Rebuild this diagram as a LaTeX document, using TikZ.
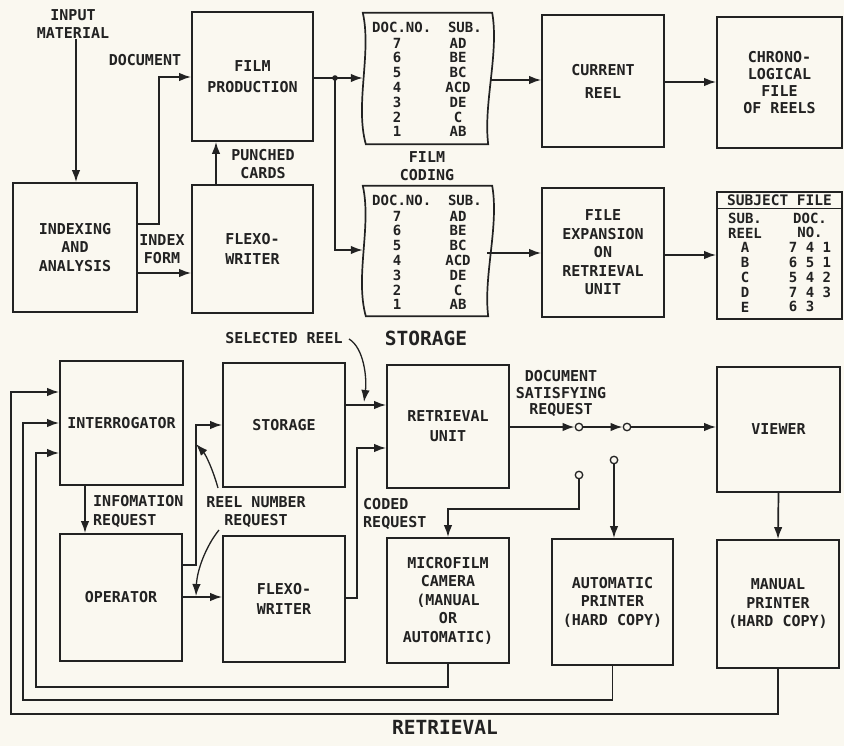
\documentclass[tikz,border=0pt]{standalone}
\usepackage{fontspec}
\setmainfont{DejaVu Sans Mono}
\usetikzlibrary{arrows.meta}
\definecolor{bg}{HTML}{FAF8F0}
\definecolor{ink}{HTML}{222222}
\newcommand\labfont{\fontsize{15}{18.5}\selectfont\bfseries}
\newcommand\bigfont{\fontsize{19.5}{22}\selectfont\bfseries}
\newcommand\stripfont{\fontsize{14}{14.8}\selectfont\bfseries}
\newcommand\filmstrip[1]{%
  \draw[frame] (#1.north west) -- (#1.north east)
    .. controls ([shift={(7,40)}]#1.north east) and ([shift={(-9,-40)}]#1.south east) .. ([xshift=-4pt]#1.south east)
    -- ([xshift=3pt]#1.south west)
    .. controls ([shift={(-8,-40)}]#1.south west) and ([shift={(9,40)}]#1.north west) .. (#1.north west) -- cycle;}
\begin{document}
\begin{tikzpicture}[x=1pt,y=-1pt,
  frame/.style={draw=ink,line width=1.7pt},
  box/.style={frame,align=center,font=\labfont,inner sep=0pt,text=ink},
  lbl/.style={align=center,font=\labfont,inner sep=0pt,text=ink},
  lbll/.style={align=left,font=\labfont,inner sep=0pt,text=ink},
  stripcol/.style={align=center,font=\stripfont,inner sep=0pt,text=ink},
  conn/.style={draw=ink,line width=1.7pt},
  arr/.style={conn,-{Latex[length=12pt,width=8.5pt]}},
  term/.style={circle,draw=ink,line width=1.3pt,fill=bg,minimum size=7.5pt,inner sep=0pt},
]
\fill[bg] (0,0) rectangle (844,746);
\useasboundingbox (0,0) rectangle (844,746);

% ---------------- STORAGE (top) ----------------
\node[box, minimum width=124pt, minimum height=129pt] (idx) at (75,247.5) {INDEXING\\AND\\ANALYSIS};
\node[box, minimum width=121pt, minimum height=129pt, font=\fontsize{15}{21}\selectfont\bfseries] (film) at (252.5,76.5) {FILM\\PRODUCTION};
\node[box, minimum width=121pt, minimum height=128pt, font=\fontsize{15}{20}\selectfont\bfseries] (flexoA) at (252.5,249) {FLEXO-\\WRITER};
\node[inner sep=0pt, minimum width=129pt, minimum height=131pt] (stripA) at (427.5,78.5) {};
\node[inner sep=0pt, minimum width=129pt, minimum height=130pt] (stripB) at (427.5,251) {};
\filmstrip{stripA}
\filmstrip{stripB}
\node[box, minimum width=122pt, minimum height=132pt, font=\fontsize{15}{23}\selectfont\bfseries] (cur) at (603,81) {CURRENT\\REEL};
\node[box, minimum width=125pt, minimum height=131pt, font=\fontsize{15}{17}\selectfont\bfseries] (chrono) at (779.5,82.5) {CHRONO-\\LOGICAL\\FILE\\OF REELS};
\node[box, minimum width=122pt, minimum height=129pt] (fexp) at (603,252.5) {FILE\\EXPANSION\\ON\\RETRIEVAL\\UNIT};
\node[box, minimum width=125pt, minimum height=127pt] (subj) at (779.5,255.5) {};

% strip contents
\node[stripcol] (hA) at (427,27) {DOC.NO.\ \ SUB.};
\node[stripcol] (nA) at (397,87.4) {7\\6\\5\\4\\3\\2\\1};
\node[stripcol] (sA) at (458,87.4) {AD\\BE\\BC\\ACD\\DE\\C\\AB};
\node[stripcol] (hB) at (427,200) {DOC.NO.\ \ SUB.};
\node[stripcol] (nB) at (397,260.4) {7\\6\\5\\4\\3\\2\\1};
\node[stripcol] (sB) at (458,260.4) {AD\\BE\\BC\\ACD\\DE\\C\\AB};

% subject file contents
\node[lbl, font=\fontsize{14.5}{16}\selectfont\bfseries] (sfh) at (779.5,200) {SUBJECT FILE};
\draw[conn, line width=1.2pt] (subj.west |- 0,208.5) -- (subj.east |- 0,208.5);
\node[stripcol] (sfl) at (745,262.5) {SUB.\\REEL\\A\\B\\C\\D\\E};
\node[stripcol] (sfr) at (810,262.5) {DOC.\\NO.\\7~4~1\\6~5~1\\5~4~2\\7~4~3\\6~3\hphantom{~1}};

% labels
\node[lbl] (inp) at (73,24) {INPUT\\MATERIAL};
\node[lbl] (docl) at (145,60) {DOCUMENT};
\node[lbl] (ixf) at (162,249) {INDEX\\FORM};
\node[lbl] (pc) at (263,164) {PUNCHED\\CARDS};
\node[lbl] (fc) at (427,166) {FILM\\CODING};
\node[lbl, font=\bigfont] (stl) at (426,338) {STORAGE};

% connectors (top)
\draw[arr] (inp.south -| 76,0) -- (idx.north -| 76,0);
\draw[arr] (idx.east |- 0,224) -- (159,224) |- (film.west |- 0,77);
\draw[arr] (idx.east |- 0,273) -- (flexoA.west |- 0,273);
\draw[arr] (flexoA.north -| 216,0) -- (film.south -| 216,0);
\coordinate (jn) at (335,78);
\draw[arr] (film.east |- jn) -- (stripA.west |- jn);
\draw[arr] (jn) |- (stripB.west |- 0,250);
\fill[ink] (jn) circle (2.8pt);
\draw[arr] ([xshift=-2pt]stripA.east |- 0,80) -- (cur.west |- 0,80);
\draw[arr] (cur.east |- 0,82) -- (chrono.west |- 0,82);
\draw[arr] ([xshift=-5pt]stripB.east |- 0,253) -- (fexp.west |- 0,253);
\draw[arr] (fexp.east |- 0,255) -- (subj.west |- 0,255);

% ---------------- RETRIEVAL (bottom) ----------------
\node[box, minimum width=123pt, minimum height=124pt] (interr) at (121.5,423) {INTERROGATOR};
\node[box, minimum width=122pt, minimum height=127pt] (oper) at (121,597.5) {OPERATOR};
\node[box, minimum width=122pt, minimum height=124pt] (stor) at (284,425) {STORAGE};
\node[box, minimum width=122pt, minimum height=126pt, font=\fontsize{15}{20}\selectfont\bfseries] (flexoB) at (284,599) {FLEXO-\\WRITER};
\node[box, minimum width=122pt, minimum height=123pt, font=\fontsize{15}{20}\selectfont\bfseries] (retr) at (448,426.5) {RETRIEVAL\\UNIT};
\node[box, minimum width=122pt, minimum height=125pt] (cam) at (448,600.5) {MICROFILM\\CAMERA\\(MANUAL\\OR\\AUTOMATIC)};
\node[box, minimum width=121pt, minimum height=126pt] (auto) at (612.5,602) {AUTOMATIC\\PRINTER\\(HARD COPY)};
\node[box, minimum width=123pt, minimum height=125pt] (viewer) at (778.5,429.5) {VIEWER};
\node[box, minimum width=122pt, minimum height=128pt] (manual) at (778,604) {MANUAL\\PRINTER\\(HARD COPY)};

\node[term] (swA) at (579,427) {};
\node[term] (swB) at (627,427) {};
\node[term] (tA) at (579,475) {};
\node[term] (tB) at (614,460) {};

% labels
\node[lbl] (sel) at (284,338) {SELECTED REEL};
\node[lbll, anchor=west] (info) at (93,511.5) {INFOMATION\\REQUEST};
\node[lbl] (rn) at (256,512) {REEL NUMBER\\REQUEST};
\node[lbll, anchor=west] (cr) at (363,514) {CODED\\REQUEST};
\node[lbl, font=\fontsize{15}{16.5}\selectfont\bfseries] (dsr) at (561,393.5) {DOCUMENT\\SATISFYING\\REQUEST};
\node[lbl, font=\bigfont] (retl) at (445,727) {RETRIEVAL};

% connectors (bottom)
\draw[arr] (interr.south -| 85,0) -- (oper.north -| 85,0);
\draw[arr] (oper.east |- 0,565) -- (196,565) |- (stor.west |- 0,425);
\draw[arr] (oper.east |- 0,597) -- (flexoB.west |- 0,597);
\draw[arr] (stor.east |- 0,405) -- (retr.west |- 0,405);
\draw[arr] (flexoB.east |- 0,598) -- (357,598) |- (retr.west |- 0,448);
\draw[arr] (retr.east |- swA) -- (swA.west);
\draw[arr] (swA.east) -- (swB.west);
\draw[arr] (swB.east) -- (viewer.west |- swB);
\draw[arr] (tA.south) |- (cam.north |- 0,509) -- (cam.north);
\draw[arr] (tB.south) -- (tB.south |- auto.north);
\draw[arr] (viewer.south) -- (manual.north);
\draw[arr] (cam.south) -- (cam.south |- 0,687) -| (36,453) -- (interr.west |- 0,453);
\draw[arr] (auto.south) -- (auto.south |- 0,700) -| (23,423) -- (interr.west |- 0,423);
\draw[arr] (manual.south) -- (manual.south |- 0,714) -| (11,392) -- (interr.west |- 0,392);

% curved pointer arrows
\coordinate (selA) at (349,339);
\draw[arr, line width=1.3pt] (selA) .. controls (364,348) and (367,378) .. (364,402);
\coordinate (rnA) at (218,488);
\draw[arr, line width=1.3pt] (rnA) .. controls (213,470) and (206,455) .. (196,444);
\coordinate (rnB) at (219,530);
\draw[arr, line width=1.3pt] (rnB) .. controls (206,546) and (197,570) .. (196,596);
\end{tikzpicture}
\end{document}
